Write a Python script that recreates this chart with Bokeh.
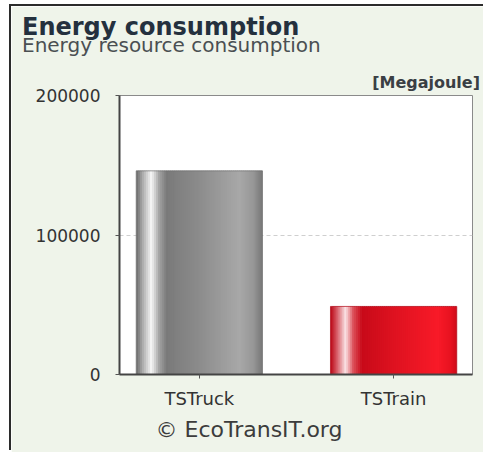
from bokeh.plotting import figure
from bokeh.models import Range1d, FixedTicker, Label, ColumnDataSource, BasicTickFormatter
from bokeh.embed import file_html
from bokeh.resources import INLINE

# ---- data ----
categories = ["TSTruck", "TSTrain"]
energy_mj = [146000, 48800]
y_ticks = [0, 100000, 200000]

title_text = "Energy consumption"
subtitle_text = "Energy resource consumption"
unit_text = "[Megajoule]"
credit_text = "\u00a9 EcoTransIT.org"

# ---- styling ----
BAR_W = 0.65
N_STRIPS = 64
FONT = "DejaVu Sans"
BG = "#eff4ea"

# horizontal shading across each bar: (fraction of width, rgb)
gray_profile = [(0.0, (105, 105, 105)), (0.05, (170, 170, 170)), (0.12, (246, 246, 246)),
                (0.18, (165, 165, 165)), (0.24, (122, 122, 122)), (0.5, (140, 140, 140)),
                (0.82, (168, 168, 168)), (0.93, (150, 150, 150)), (1.0, (118, 118, 118))]
red_profile = [(0.0, (185, 5, 20)), (0.05, (215, 90, 100)), (0.12, (250, 228, 230)),
               (0.18, (220, 80, 90)), (0.25, (200, 10, 25)), (0.5, (222, 18, 32)),
               (0.85, (248, 26, 40)), (0.95, (232, 18, 32)), (1.0, (205, 12, 26))]
profiles = [gray_profile, red_profile]
edge_colors = ["#6e6e6e", "#b00818"]


def shade(profile, t):
    for (t0, c0), (t1, c1) in zip(profile[:-1], profile[1:]):
        if t0 <= t <= t1:
            f = (t - t0) / (t1 - t0) if t1 > t0 else 0
            r, g, b = (round(a + (b_ - a) * f) for a, b_ in zip(c0, c1))
            return "#%02x%02x%02x" % (r, g, b)
    return "#%02x%02x%02x" % profile[-1][1]


positions = list(range(len(categories)))

strips = dict(left=[], right=[], top=[], color=[])
dw = BAR_W / N_STRIPS
for pos, val, prof in zip(positions, energy_mj, profiles):
    x0 = pos - BAR_W / 2
    for k in range(N_STRIPS):
        left = x0 + k * dw
        right = min(left + 1.6 * dw, pos + BAR_W / 2)
        strips["left"].append(left)
        strips["right"].append(right)
        strips["top"].append(val)
        strips["color"].append(shade(prof, (k + 0.5) / N_STRIPS))

p = figure(width=476, height=446, output_backend="svg", toolbar_location=None,
           x_range=Range1d(-0.411, 1.406), y_range=Range1d(0, 200000),
           min_border_left=108, min_border_right=15, min_border_top=89, min_border_bottom=78,
           background_fill_color="white", border_fill_color=BG)
# dark frame line along the left and top of the card
p.styles = {"margin-left": "11px", "margin-top": "6px",
            "box-shadow": "-2px -2px 0px 0px #2b2b2b"}

p.quad(left="left", right="right", bottom=0, top="top", fill_color="color",
       line_color=None, source=ColumnDataSource(strips))
p.vbar(x=positions, width=BAR_W, top=energy_mj, bottom=0, fill_color=None,
       line_color=edge_colors, line_width=1, line_alpha=0.7)

p.outline_line_color = "#8a8a8a"
p.outline_line_width = 1

p.xgrid.visible = False
p.ygrid.ticker = FixedTicker(ticks=[100000])
p.ygrid.grid_line_color = "#cfcfcf"
p.ygrid.grid_line_dash = "4 3"

for ax in (p.xaxis[0], p.yaxis[0]):
    ax.axis_line_color = "#444444"
    ax.axis_line_width = 2
    ax.major_tick_line_color = "#555555"
    ax.major_tick_in = 0
    ax.major_tick_out = 4
    ax.minor_tick_line_color = None
    ax.major_label_text_font = FONT
    ax.major_label_text_color = "#333333"

p.xaxis.ticker = FixedTicker(ticks=positions)
p.xaxis.major_label_overrides = {i: c for i, c in zip(positions, categories)}
p.xaxis.major_label_text_font_size = "18px"
p.xaxis.major_label_standoff = 9

p.yaxis.ticker = FixedTicker(ticks=y_ticks)
p.yaxis.formatter = BasicTickFormatter(use_scientific=False)
p.yaxis.major_label_text_font_size = "17px"
p.yaxis.major_label_standoff = 15


# header texts sit in the panel above the frame, the credit in the panel below;
# x is measured from the frame's left edge, y upward from each text's own slot
def add_text(txt, x, y, size, color, style="normal", align="left", place="above"):
    p.add_layout(Label(x=x, y=y, x_units="screen", y_units="screen", text=txt,
                       text_font=FONT, text_font_size=size, text_color=color,
                       text_font_style=style, text_align=align, text_baseline="alphabetic"),
                 place)


add_text(title_text, -97.5, 69, "24px", "#24303e", "bold")
add_text(subtitle_text, -97.5, 22.8, "20px", "#4a4f52")
add_text(unit_text, 360.5, -39.4, "16px", "#3a3f44", "bold", "right")
add_text(credit_text, 129.5, 6.7, "22px", "#3c3c3c", align="center", place="below")

open("out.html", "w").write(file_html(p, INLINE))
